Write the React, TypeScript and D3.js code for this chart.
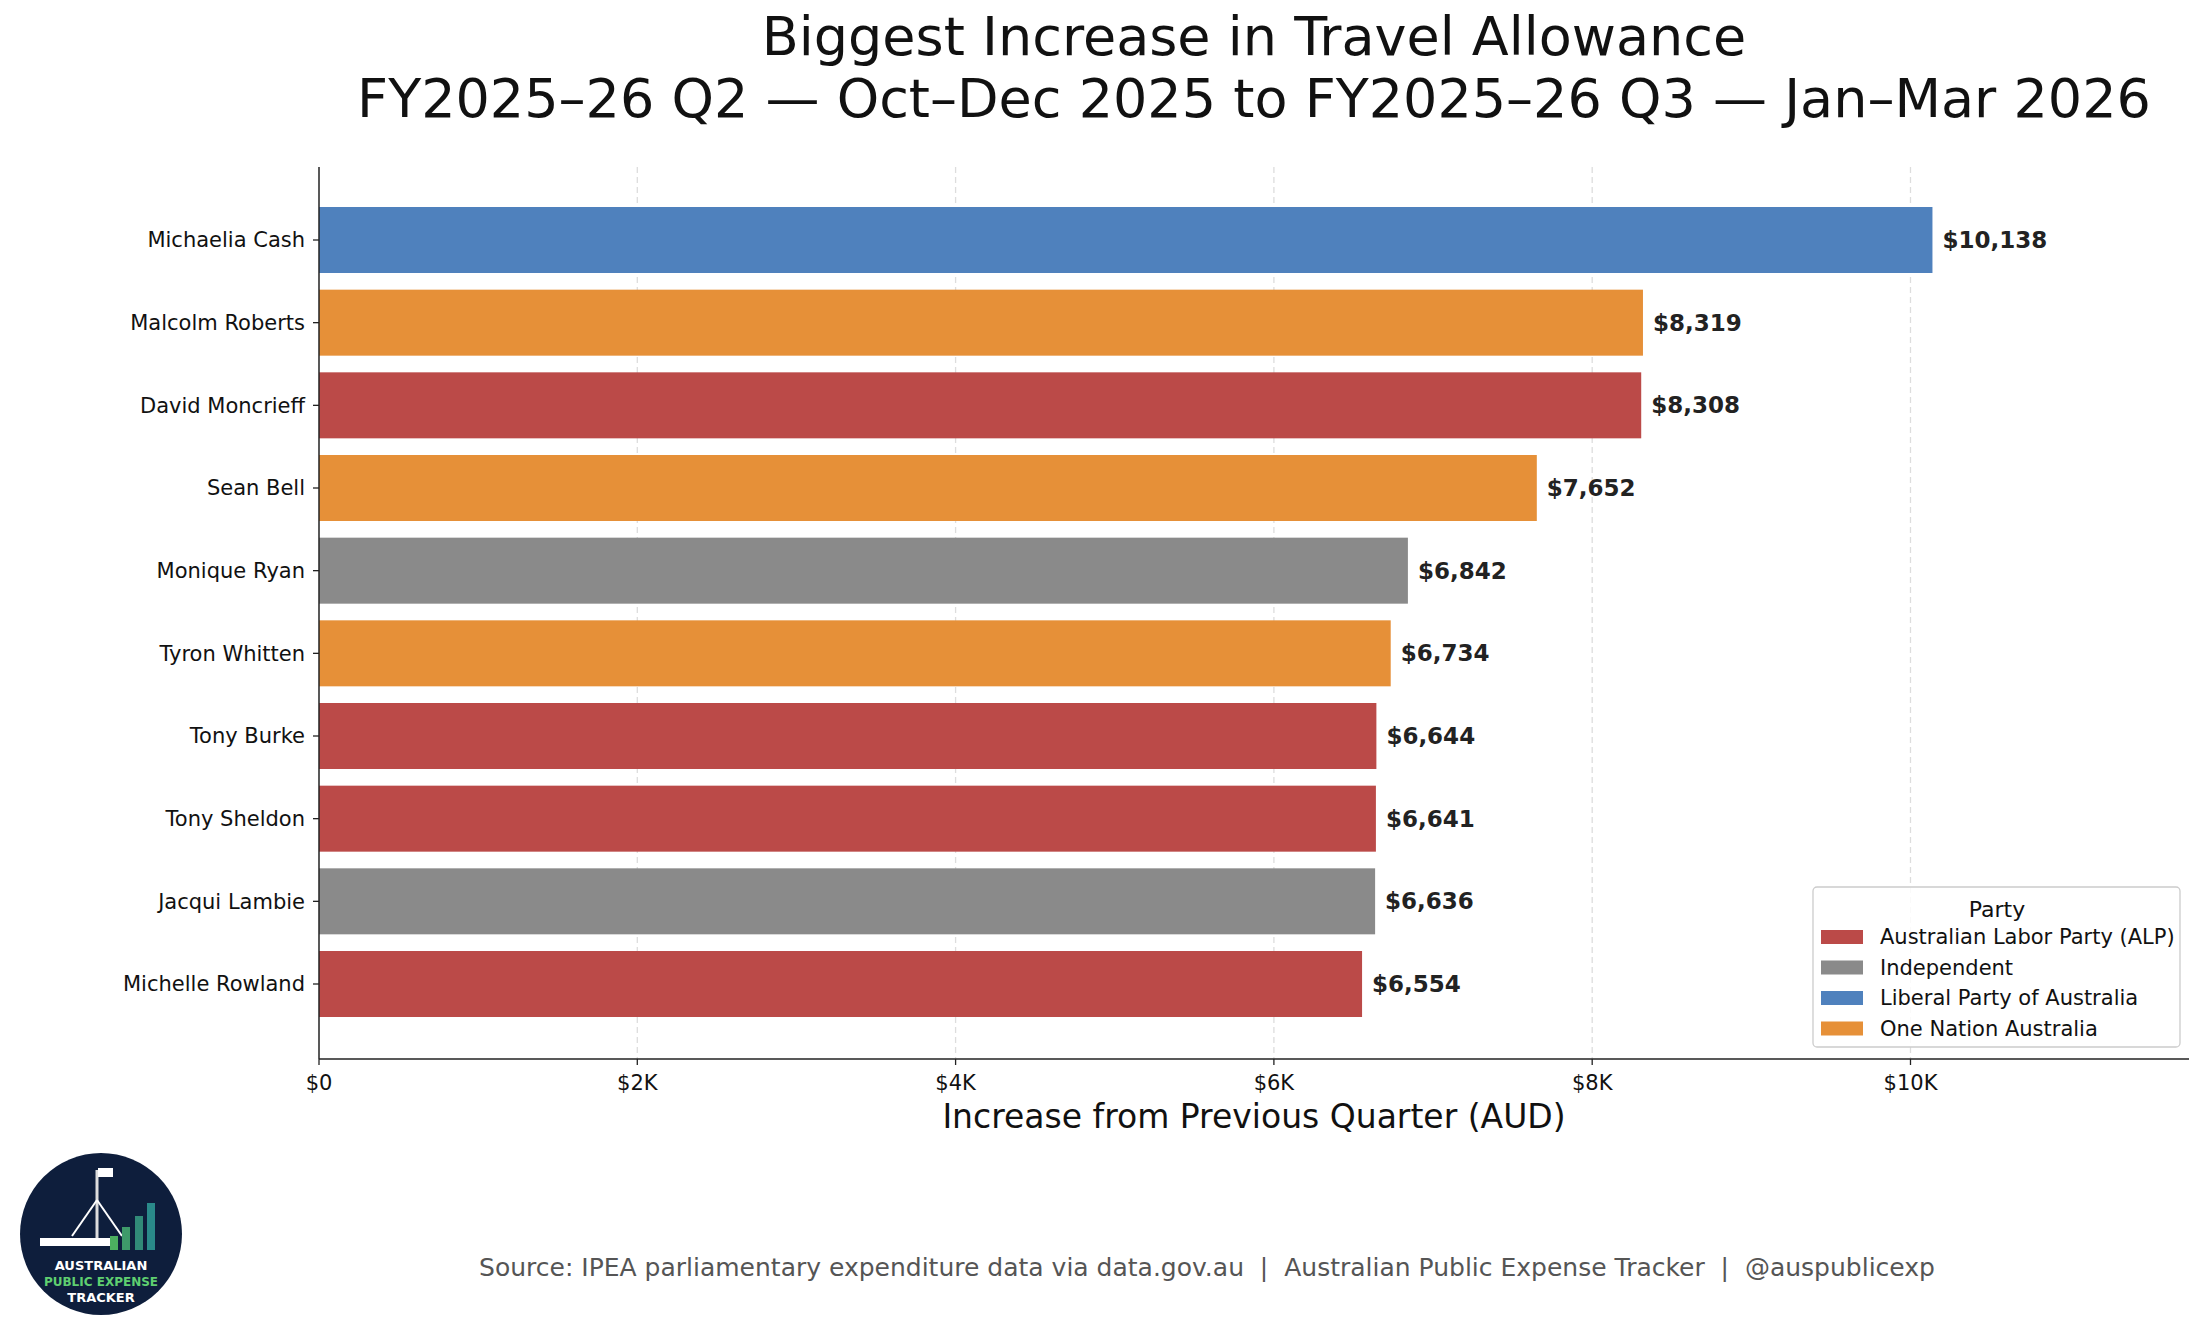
import React from "react";
import * as d3 from "d3";

const names = ["Michaelia Cash","Malcolm Roberts","David Moncrieff","Sean Bell","Monique Ryan","Tyron Whitten","Tony Burke","Tony Sheldon","Jacqui Lambie","Michelle Rowland"];
const values = [10138,8319,8308,7652,6842,6734,6644,6641,6636,6554];
const parties = ["LIB","ON","ALP","ON","IND","ON","ALP","ALP","IND","ALP"];
const partyKeys = ["ALP","IND","LIB","ON"];
const partyLabels = ["Australian Labor Party (ALP)","Independent","Liberal Party of Australia","One Nation Australia"];
const partyColors = ["#bb4a48","#8a8a8a","#4f81bd","#e69038"];
const xTicks = [0,2000,4000,6000,8000,10000];
const xTickLabels = ["$0","$2K","$4K","$6K","$8K","$10K"];

const F = "DejaVu Sans, sans-serif";

export default function App() {
  const W = 2205, H = 1337;
  const left = 319, right = 2189, top = 167, bottom = 1059;
  const x = d3.scaleLinear().domain([0, 11750]).range([left, right]);
  const y = d3.scaleLinear().domain([0, 9]).range([240, 984]);
  const bh = 66;
  const color = (p: string) => partyColors[partyKeys.indexOf(p)];
  return (
    <svg width={W} height={H} style={{ position: "absolute", left: 0, top: 0, background: "#fff" }} fontFamily={F}>
      <text x={1254} y={55} textAnchor="middle" fontSize={54} fill="#111">Biggest Increase in Travel Allowance</text>
      <text x={1254} y={117} textAnchor="middle" fontSize={54} fill="#111">FY2025–26 Q2 — Oct–Dec 2025 to FY2025–26 Q3 — Jan–Mar 2026</text>
      {xTicks.slice(1).map(t => (
        <line key={t} x1={x(t)} x2={x(t)} y1={top} y2={bottom} stroke="#ddd" strokeDasharray="6,4" strokeWidth={1.3} />
      ))}
      {values.map((v, i) => (
        <g key={names[i]}>
          <rect x={x(0)} y={y(i) - bh / 2} width={x(v) - x(0)} height={bh} fill={color(parties[i])} />
          <text x={x(v) + 10} y={y(i)} dy="0.35em" fontSize={23} fontWeight="bold" fill="#222">{d3.format("$,")(v)}</text>
          <line x1={left - 6} x2={left} y1={y(i)} y2={y(i)} stroke="#222" strokeWidth={1.3} />
          <text x={left - 14} y={y(i)} dy="0.35em" textAnchor="end" fontSize={21} fill="#111">{names[i]}</text>
        </g>
      ))}
      <line x1={left} x2={left} y1={top} y2={bottom} stroke="#222" strokeWidth={1.5} />
      <line x1={left} x2={right} y1={bottom} y2={bottom} stroke="#222" strokeWidth={1.5} />
      {xTicks.map((t, i) => (
        <g key={t}>
          <line x1={x(t)} x2={x(t)} y1={bottom} y2={bottom + 6} stroke="#222" strokeWidth={1.3} />
          <text x={x(t)} y={bottom + 31} textAnchor="middle" fontSize={21} fill="#111">{xTickLabels[i]}</text>
        </g>
      ))}
      <text x={1254} y={1128} textAnchor="middle" fontSize={33} fill="#111">Increase from Previous Quarter (AUD)</text>
      <rect x={1813} y={887} width={367} height={160} rx={4} fill="#fff" fillOpacity={0.85} stroke="#ccc" strokeWidth={1.3} />
      <text x={1997} y={917} textAnchor="middle" fontSize={22} fill="#111">Party</text>
      {partyLabels.map((l, i) => (
        <g key={l}>
          <rect x={1821} y={930 + i * 30.5} width={42} height={14} fill={partyColors[i]} />
          <text x={1880} y={937 + i * 30.5} dy="0.35em" fontSize={21} fill="#111">{l}</text>
        </g>
      ))}
      <text x={1207} y={1267} dy="0.35em" textAnchor="middle" fontSize={25} fill="#555" style={{ whiteSpace: "pre" }}>Source: IPEA parliamentary expenditure data via data.gov.au  |  Australian Public Expense Tracker  |  @auspublicexp</text>
      <g>
        <circle cx={101} cy={1234} r={81} fill="#0e1e3c" />
        <rect x={40} y={1238} width={70} height={8} fill="#fff" />
        <line x1={97} x2={97} y1={1170} y2={1238} stroke="#ddd" strokeWidth={3} />
        <rect x={98} y={1168} width={15} height={9} fill="#fff" />
        <line x1={97} x2={72} y1={1200} y2={1236} stroke="#fff" strokeWidth={2} />
        <line x1={97} x2={122} y1={1200} y2={1236} stroke="#fff" strokeWidth={2} />
        <rect x={110} y={1236} width={8} height={14} fill="#4caf60" />
        <rect x={122} y={1227} width={8} height={23} fill="#3e9a6a" />
        <rect x={135} y={1216} width={8} height={34} fill="#318a78" />
        <rect x={147} y={1203} width={8} height={47} fill="#2a8a8a" />
        <text x={101} y={1270} textAnchor="middle" fontSize={13} fontWeight="bold" fill="#fff">AUSTRALIAN</text>
        <text x={101} y={1286} textAnchor="middle" fontSize={12} fontWeight="bold" fill="#5fcf70">PUBLIC EXPENSE</text>
        <text x={101} y={1302} textAnchor="middle" fontSize={13} fontWeight="bold" fill="#fff">TRACKER</text>
      </g>
    </svg>
  );
}
